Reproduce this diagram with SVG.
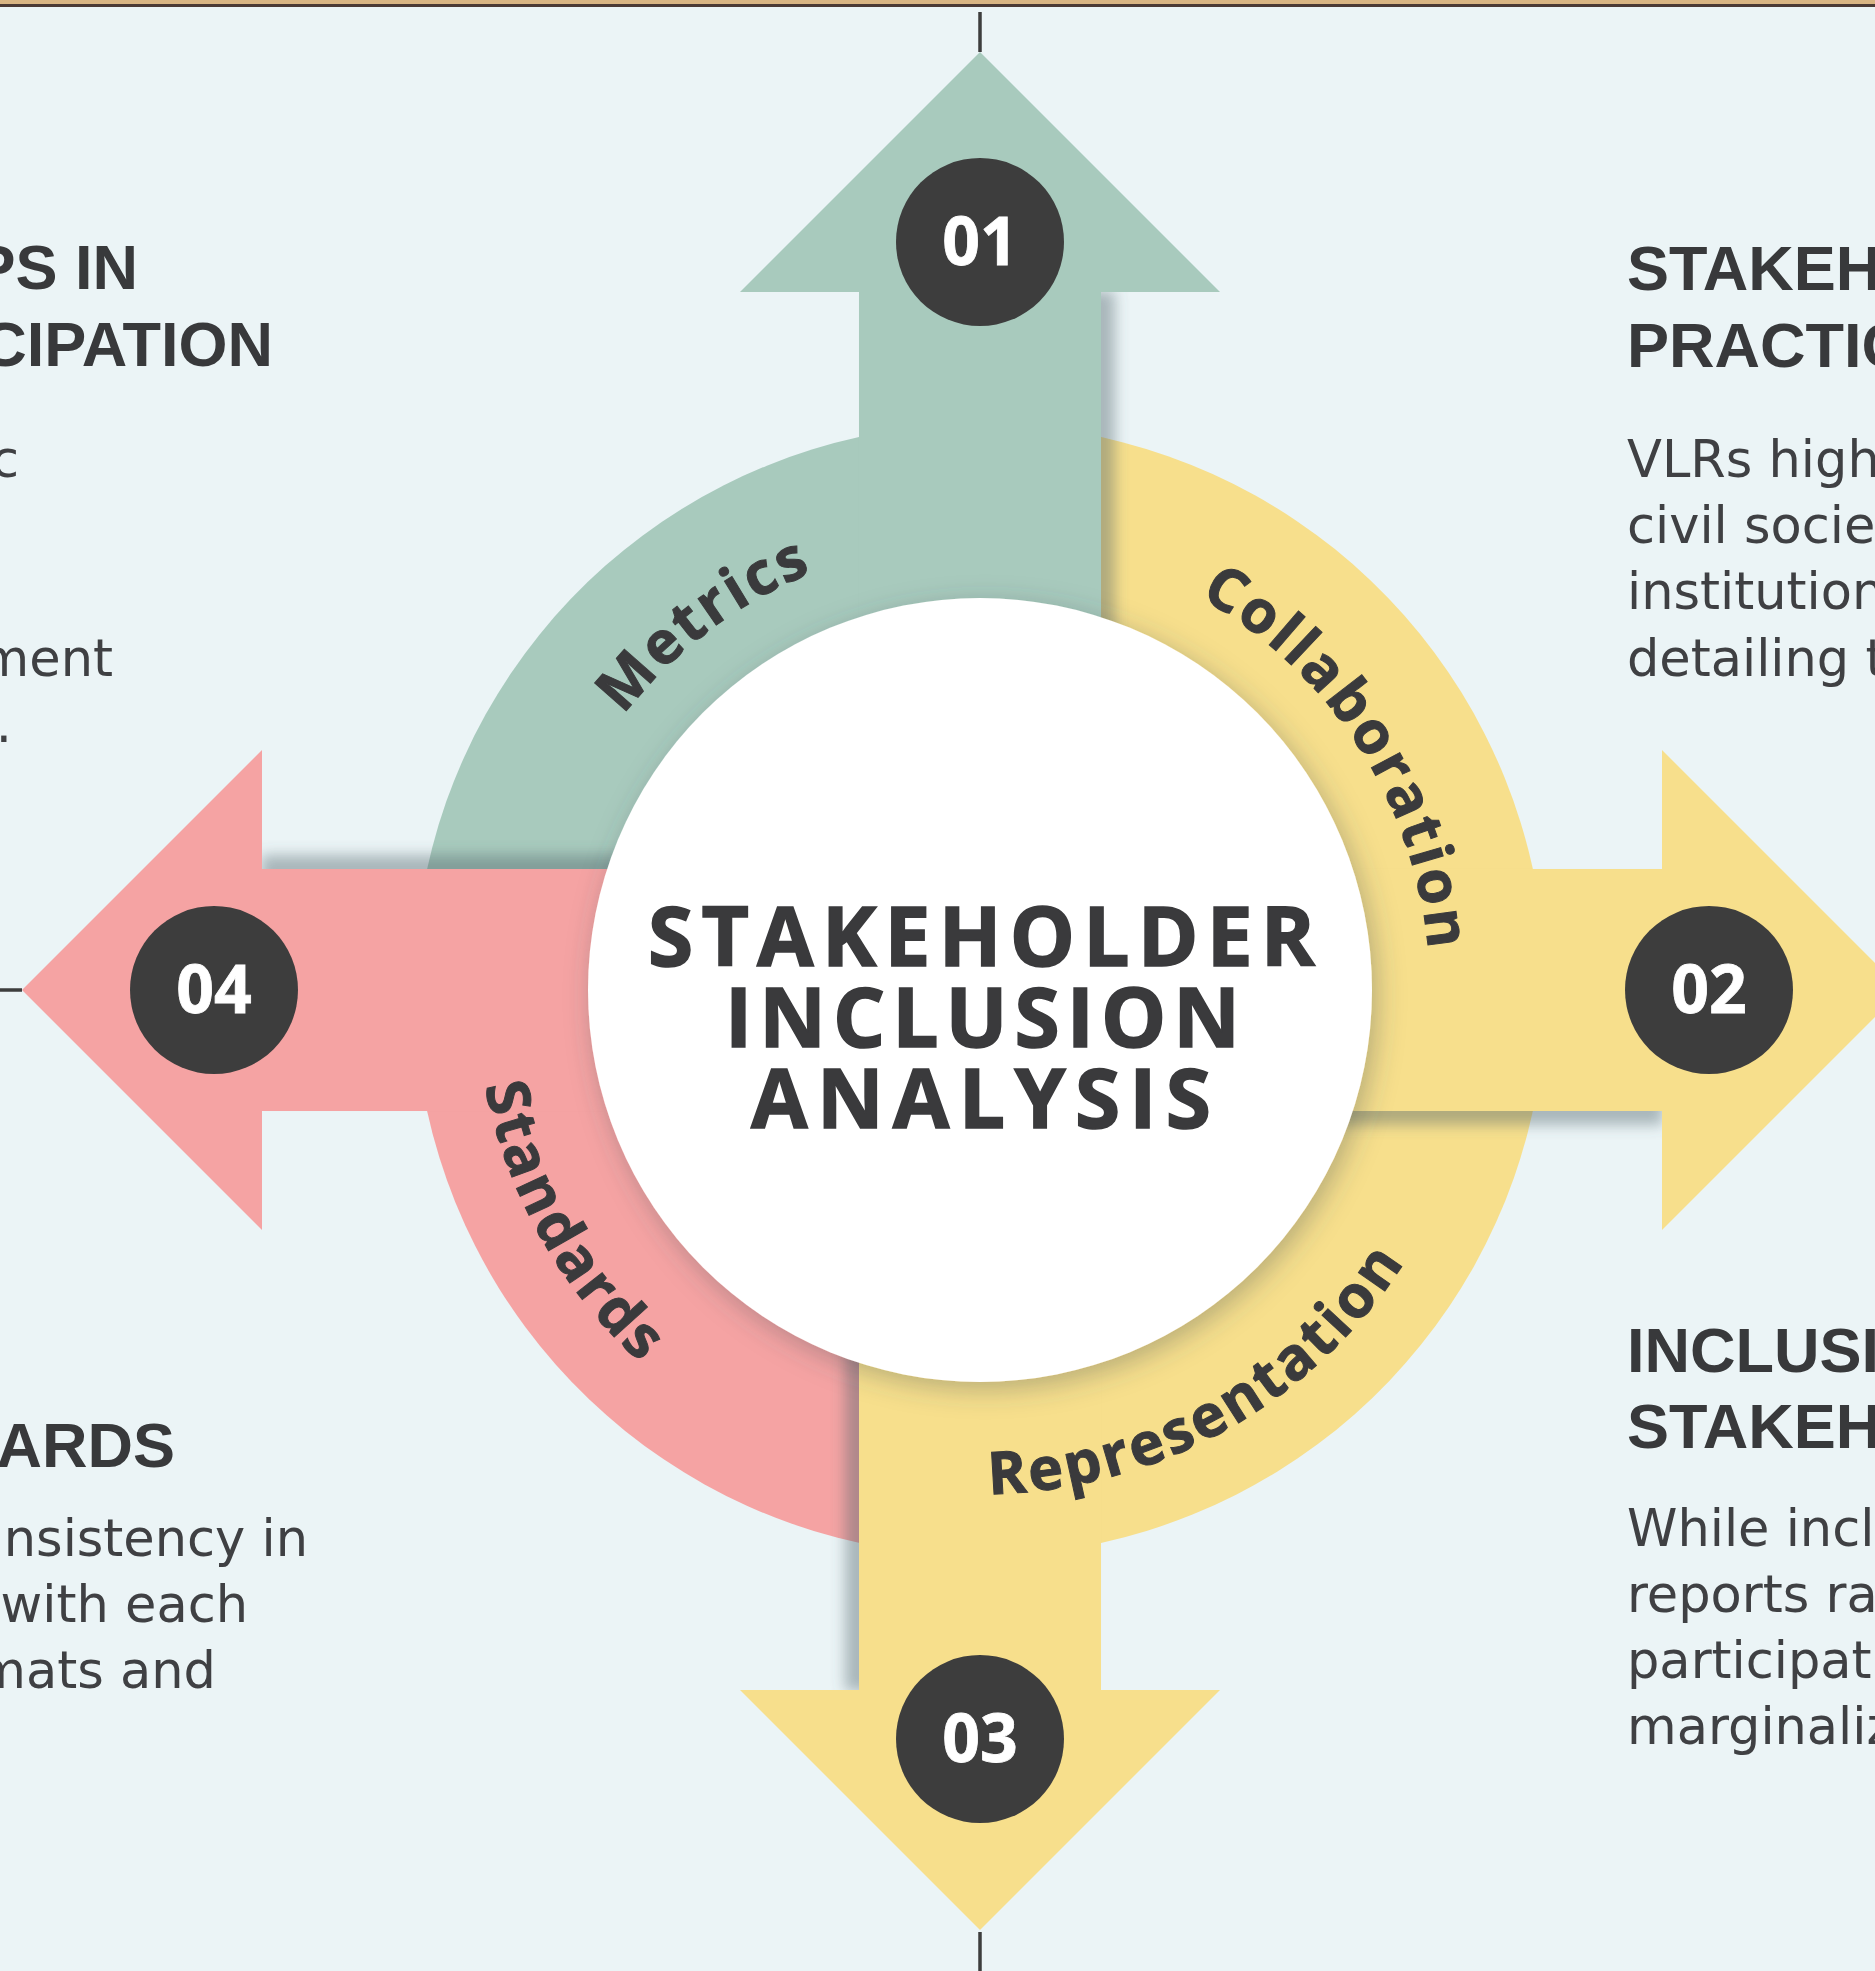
<svg xmlns="http://www.w3.org/2000/svg" width="1875" height="1971" viewBox="0 0 1875 1971">
<defs>
<style>
.hd{font-family:"Liberation Sans",Arial,sans-serif;font-weight:700;font-size:63px;fill:#38393b}
.bd{font-family:"DejaVu Sans","Noto Sans",sans-serif;font-size:51px;fill:#3f4043}
.arc{font-family:"Open Sans","Liberation Sans",sans-serif;font-weight:700;font-size:59px;fill:#3a3a3c;stroke:#3a3a3c;stroke-width:1;letter-spacing:3px}
.ttl{font-family:"Open Sans","Liberation Sans",sans-serif;font-weight:700;font-size:82px;fill:#3a3a3c;stroke:#3a3a3c;stroke-width:1.6;text-anchor:middle}
.num{font-family:"Open Sans","Liberation Sans",sans-serif;font-weight:700;font-size:66px;fill:#ffffff;stroke:#ffffff;stroke-width:0.8;text-anchor:middle}
.badge{fill:#3d3d3d}
.ln{stroke:#3d3d3d;stroke-width:3.5;fill:none}
.g{fill:#a8cabd}.y{fill:#f7df8c}.p{fill:#f5a3a3}
</style>
<filter id="shR" x="-30%" y="-10%" width="160%" height="120%"><feDropShadow dx="14" dy="0" stdDeviation="7" flood-color="#4f6168" flood-opacity="0.42"/></filter>
<filter id="shD" x="-10%" y="-30%" width="120%" height="160%"><feDropShadow dx="0" dy="14" stdDeviation="7" flood-color="#4f6168" flood-opacity="0.42"/></filter>
<filter id="shL" x="-30%" y="-10%" width="160%" height="120%"><feDropShadow dx="-14" dy="0" stdDeviation="7" flood-color="#4f6168" flood-opacity="0.42"/></filter>
<filter id="shU" x="-10%" y="-30%" width="120%" height="160%"><feDropShadow dx="0" dy="-14" stdDeviation="7" flood-color="#4f6168" flood-opacity="0.42"/></filter>
<filter id="shC" x="-20%" y="-20%" width="140%" height="140%"><feDropShadow dx="5" dy="7" stdDeviation="14" flood-color="#3d4a4f" flood-opacity="0.35"/></filter>
<path id="pMetrics" d="M533.4,1044.8 A450,450 0 0 1 1155.8,575.8"/>
<path id="pCollab" d="M958.0,540.5 A450,450 0 0 1 1380.2,1195.7"/>
<path id="pStandards" d="M545.7,734.2 A504,504 0 0 0 975.6,1494.0"/>
<path id="pRepr" d="M722.6,1423.4 A504,504 0 0 0 1484.0,996.2"/>
</defs>

<rect x="0" y="0" width="1875" height="1971" fill="#ebf4f6"/>
<rect x="0" y="0" width="1875" height="4" fill="#d9b583"/>
<rect x="0" y="4" width="1875" height="3" fill="#4b3a35"/>

<g id="connectors">
<line class="ln" x1="980" y1="12" x2="980" y2="52"/>
<line class="ln" x1="980" y1="1932" x2="980" y2="1971"/>
<line class="ln" x1="0" y1="990" x2="22" y2="990"/>
</g>

<g id="tails">
<path class="g" d="M980,990 L859,437.1 A566,566 0 0 0 414,990 Z"/>
<path class="y" d="M980,990 L1532.9,869 A566,566 0 0 0 980,424 Z"/>
<path class="y" d="M980,990 L1101,1542.9 A566,566 0 0 0 1546,990 Z"/>
<path class="p" d="M980,990 L427.1,1111 A566,566 0 0 0 980,1556 Z"/>
</g>

<g id="arrows">
<g id="arrow-01">
<rect class="g" filter="url(#shR)" x="859" y="291" width="242" height="699"/>
<polygon class="g" points="740,292 980,52 1220,292"/>
</g>
<g id="arrow-02">
<rect class="y" filter="url(#shD)" x="980" y="869" width="683" height="242"/>
<polygon class="y" points="1662,750 1902,990 1662,1230"/>
</g>
<g id="arrow-03">
<rect class="y" filter="url(#shL)" x="859" y="990" width="242" height="701"/>
<polygon class="y" points="740,1690 980,1930 1220,1690"/>
</g>
<g id="arrow-04">
<rect class="p" filter="url(#shU)" x="261" y="869" width="719" height="242"/>
<polygon class="p" points="262,750 22,990 262,1230"/>
</g>
</g>

<g id="node-center">
<circle cx="980" cy="990" r="392" fill="#ffffff" filter="url(#shC)"/>
<text class="ttl" x="981.5" y="966" textLength="667" lengthAdjust="spacing">STAKEHOLDER</text>
<text class="ttl" x="982.5" y="1047" textLength="515" lengthAdjust="spacing">INCLUSION</text>
<text class="ttl" x="981" y="1128" textLength="460" lengthAdjust="spacing">ANALYSIS</text>
</g>

<g id="arc-labels">
<text class="arc"><textPath href="#pMetrics" startOffset="50%" text-anchor="middle">Metrics</textPath></text>
<text class="arc"><textPath href="#pCollab" startOffset="50%" text-anchor="middle">Collaboration</textPath></text>
<text class="arc"><textPath href="#pStandards" startOffset="50%" text-anchor="middle">Standards</textPath></text>
<text class="arc"><textPath href="#pRepr" startOffset="50%" text-anchor="middle">Representation</textPath></text>
</g>

<g id="node-01"><circle class="badge" cx="980" cy="242" r="84"/><text class="num" x="980" y="265">01</text></g>
<g id="node-02"><circle class="badge" cx="1709" cy="990" r="84"/><text class="num" x="1709" y="1013">02</text></g>
<g id="node-03"><circle class="badge" cx="980" cy="1739" r="84"/><text class="num" x="980" y="1762">03</text></g>
<g id="node-04"><circle class="badge" cx="214" cy="990" r="84"/><text class="num" x="214" y="1013">04</text></g>

<g id="text-top-left" text-anchor="end">
<text class="hd" x="138" y="289">PS IN</text>
<text class="hd" x="273" y="366">CIPATION</text>
<text class="bd" x="19" y="477">c</text>
<text class="bd" x="113" y="676">ment</text>
<text class="bd" x="12" y="742">.</text>
</g>

<g id="text-bottom-left" text-anchor="end">
<text class="hd" x="175" y="1467">ARDS</text>
<text class="bd" x="308" y="1556">nsistency in</text>
<text class="bd" x="248" y="1622">with each</text>
<text class="bd" x="216" y="1688">mats and</text>
</g>

<g id="text-top-right">
<text class="hd" x="1627" y="290">STAKEH</text>
<text class="hd" x="1627" y="367">PRACTIC</text>
<text class="bd" x="1627" y="477">VLRs high</text>
<text class="bd" x="1627" y="543">civil socie</text>
<text class="bd" x="1627" y="609">institution</text>
<text class="bd" x="1627" y="676">detailing t</text>
</g>

<g id="text-bottom-right">
<text class="hd" x="1627" y="1372">INCLUSI</text>
<text class="hd" x="1627" y="1448">STAKEH</text>
<text class="bd" x="1627" y="1546">While incl</text>
<text class="bd" x="1627" y="1612">reports ra</text>
<text class="bd" x="1627" y="1678">participat</text>
<text class="bd" x="1627" y="1744">marginaliz</text>
</g>
</svg>
